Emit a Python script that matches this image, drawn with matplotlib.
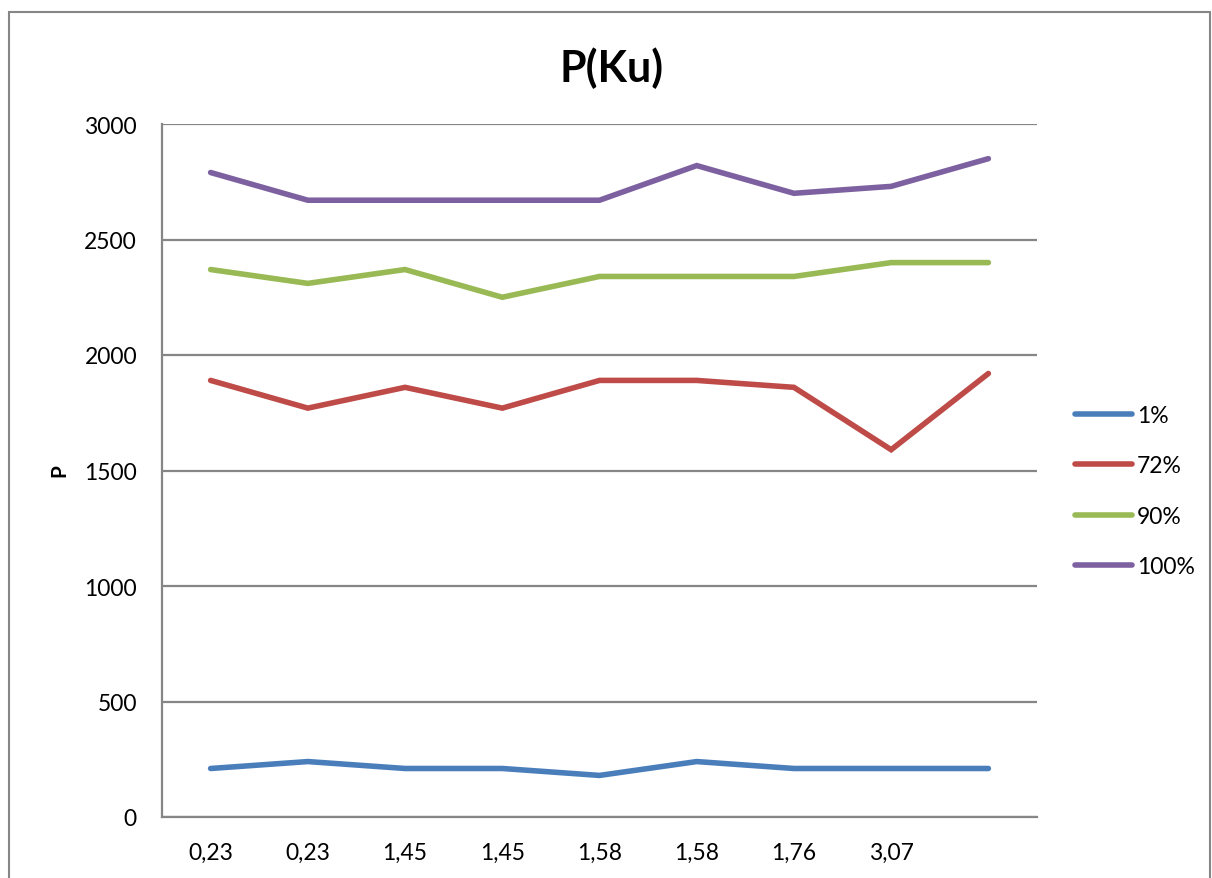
import matplotlib.pyplot as plt
from matplotlib.patches import Rectangle

plt.rcParams['font.family'] = ['Lato', 'DejaVu Sans']

# данные
ku_labels = ["0,23", "0,23", "1,45", "1,45", "1,58", "1,58", "1,76", "3,07", ""]
p_1 = [210, 240, 210, 210, 180, 240, 210, 210, 210]
p_72 = [1890, 1770, 1860, 1770, 1890, 1890, 1860, 1590, 1920]
p_90 = [2370, 2310, 2370, 2250, 2340, 2340, 2340, 2400, 2400]
p_100 = [2790, 2670, 2670, 2670, 2670, 2820, 2700, 2730, 2850]
series_names = ["1%", "72%", "90%", "100%"]
colors = ["#4A7EBB", "#BE4B48", "#98B954", "#7D60A0"]

fig = plt.figure(figsize=(12.12, 8.79), dpi=100)
ax = fig.add_axes([162 / 1212, 1 - 818 / 879, (1037 - 162) / 1212, (818 - 125) / 879])

x = list(range(len(ku_labels)))
for vals, name, c in zip([p_1, p_72, p_90, p_100], series_names, colors):
    ax.plot(x, vals, color=c, lw=4.0, label=name, solid_capstyle='round',
            solid_joinstyle='miter')

ax.set_xlim(-0.5, len(ku_labels) - 0.5)
ax.set_ylim(0, 3000)
ax.set_yticks(range(0, 3001, 500))
ax.set_xticks(x)
ax.set_xticklabels(ku_labels)
ax.yaxis.grid(True, color="#868686", lw=1.6)
ax.set_axisbelow(True)
for s in ["top", "right"]:
    ax.spines[s].set_visible(False)
for s in ["left", "bottom"]:
    ax.spines[s].set_color("#868686")
    ax.spines[s].set_linewidth(1.6)
ax.tick_params(axis="both", length=0, labelsize=16.5)
ax.tick_params(axis="y", pad=18)
ax.tick_params(axis="x", pad=18)

ax.set_ylabel("P", fontsize=15, fontweight="bold")
ax.yaxis.set_label_coords(-93 / 875, (818 - 471) / 693)

fig.text(0.505, 1 - 68 / 879, "P(Ku)", fontsize=31, fontweight="bold",
         ha="center", va="center")

ax.legend(loc="center left", bbox_to_anchor=(1.02, (818 - 492) / 693), frameon=False,
          fontsize=16.5, handlelength=2.5, handletextpad=0.2, labelspacing=1.28)

# рамка диаграммы
fig.patches.append(Rectangle((9 / 1212, -0.02), (1210 - 9) / 1212, 1 - 13 / 879 + 0.02,
                             transform=fig.transFigure, fill=False,
                             edgecolor="#868686", lw=1.5))

fig.savefig("out.png", dpi=100)
